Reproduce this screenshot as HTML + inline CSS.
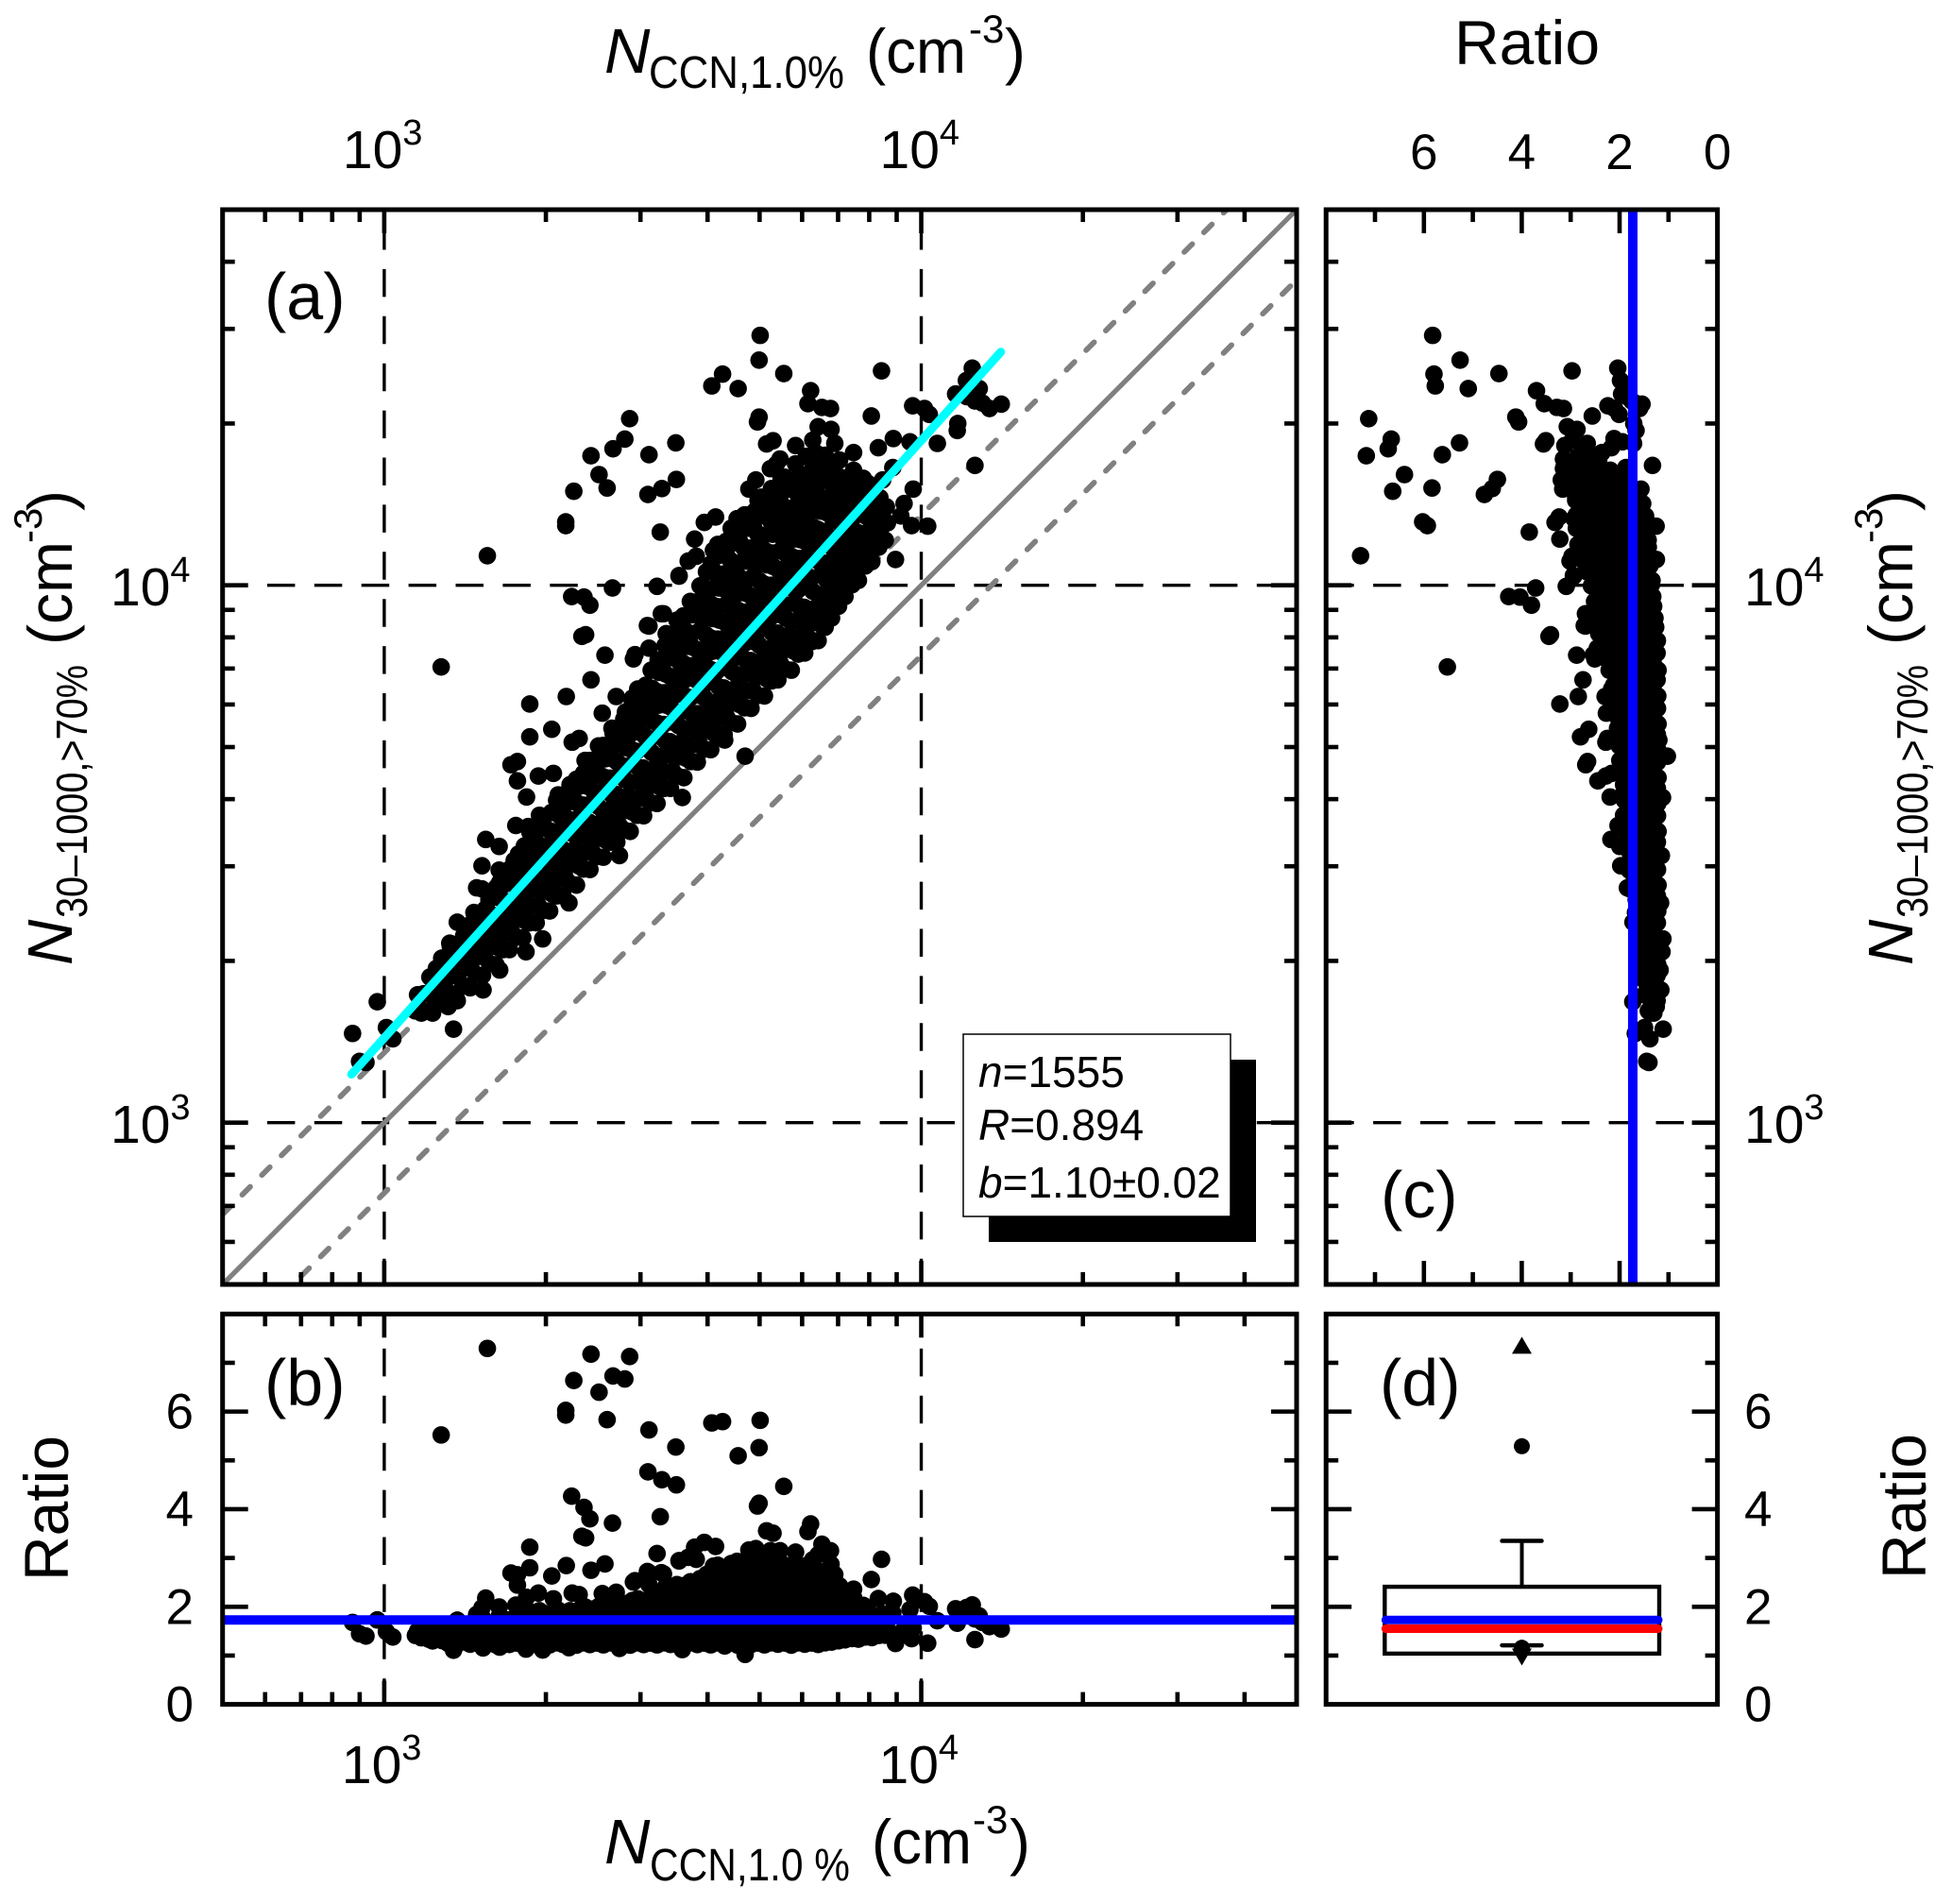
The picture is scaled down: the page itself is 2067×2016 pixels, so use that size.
<!DOCTYPE html>
<html lang="en">
<head>
<meta charset="utf-8">
<title>N30-1000 vs NCCN scatter</title>
<style>
html,body{margin:0;padding:0;background:#fff;}
svg{display:block;}
text{font-family:"Liberation Sans",Arial,sans-serif;fill:#000;}
.it{font-style:italic;}
</style>
</head>
<body>
<svg id="fig" xmlns="http://www.w3.org/2000/svg" width="2067" height="2016" viewBox="0 0 2067 2016">
<rect x="0" y="0" width="2067" height="2016" fill="#fff"/>
<defs>
<clipPath id="clipA"><rect x="235.7" y="222" width="1137.3" height="1138"/></clipPath>
<clipPath id="clipB"><rect x="235.7" y="1391.3" width="1137.3" height="413.3"/></clipPath>
<clipPath id="clipC"><rect x="1404.2" y="222" width="414.4" height="1138"/></clipPath>
</defs>
<g id="panelA" clip-path="url(#clipA)"></g>
<g id="panelB" clip-path="url(#clipB)"></g>
<g id="panelC" clip-path="url(#clipC)"></g>
<g id="panelD"></g>
<g id="axes"></g>

<g>
<rect x="1047" y="1122" width="283" height="193" fill="#000"/>
<rect x="1020" y="1095" width="283" height="193" fill="#fff" stroke="#000" stroke-width="1.5"/>
<text x="1036" y="1151" font-size="46"><tspan class="it">n</tspan>=1555</text>
<text x="1036" y="1207" font-size="46"><tspan class="it">R</tspan>=0.894</text>
<text x="1036" y="1268" font-size="46"><tspan class="it">b</tspan>=1.10±0.02</text>
</g>

<text x="280" y="338" font-size="70">(a)</text>
<text x="280" y="1488" font-size="70">(b)</text>
<text x="1462" y="1289" font-size="70">(c)</text>
<text x="1461" y="1488" font-size="70">(d)</text>

<g>
<text x="640" y="77" font-size="67" class="it">N</text>
<text x="687" y="93" font-size="48" textLength="207" lengthAdjust="spacingAndGlyphs">CCN,1.0%</text>
<text x="917" y="77" font-size="66" textLength="106" lengthAdjust="spacingAndGlyphs">(cm</text>
<text x="1026" y="45" font-size="42">-3</text>
<text x="1064" y="77" font-size="66">)</text>
</g>
<text x="1617" y="68" font-size="66" text-anchor="middle">Ratio</text>

<g>
<text x="640" y="1973" font-size="67" class="it">N</text>
<text x="688" y="1991" font-size="48" textLength="212" lengthAdjust="spacingAndGlyphs">CCN,1.0 %</text>
<text x="923" y="1973" font-size="66" textLength="106" lengthAdjust="spacingAndGlyphs">(cm</text>
<text x="1030" y="1941" font-size="42">-3</text>
<text x="1069" y="1973" font-size="66">)</text>
</g>

<g transform="translate(76,1022) rotate(-90)">
<text x="0" y="0" font-size="67" class="it">N</text>
<text x="50" y="16" font-size="46" textLength="268" lengthAdjust="spacingAndGlyphs">30–1000,&gt;70%</text>
<text x="339" y="0" font-size="66">(cm</text>
<text x="447" y="-32" font-size="42">-3</text>
<text x="481" y="0" font-size="66">)</text>
</g>
<g transform="translate(2025,1022) rotate(-90)">
<text x="0" y="0" font-size="67" class="it">N</text>
<text x="50" y="16" font-size="46" textLength="268" lengthAdjust="spacingAndGlyphs">30–1000,&gt;70%</text>
<text x="339" y="0" font-size="66">(cm</text>
<text x="447" y="-32" font-size="42">-3</text>
<text x="481" y="0" font-size="66">)</text>
</g>
<text transform="translate(72,1597) rotate(-90)" font-size="66" text-anchor="middle">Ratio</text>
<text transform="translate(2039,1595) rotate(-90)" font-size="66" text-anchor="middle">Ratio</text>
</svg>

<script>
// log10 of N_CCN,1.0% for each sample (isolated points first, then the dense core)
const logNccn = [
3.192,3.106,3.385,3.457,3.353,3.426,3.448,3.400,3.338,3.338,
3.415,3.493,3.543,3.491,3.517,3.544,3.514,3.349,3.372,3.383,
3.368,3.375,3.425,3.271,3.271,3.236,3.248,3.312,3.339,3.385,
3.411,3.508,3.549,3.350,3.363,3.406,3.432,3.493,3.520,3.464,
2.941,2.954,2.966,2.987,3.004,3.016,3.129,3.700,3.698,3.744,
3.926,3.630,3.610,3.659,3.794,3.789,3.815,3.831,3.907,3.695,
3.698,3.808,3.832,3.839,3.798,3.766,3.712,3.724,3.874,3.920,
3.948,3.979,4.030,4.068,4.067,3.984,4.006,4.015,4.095,4.084,
4.064,4.108,4.100,4.127,4.149,4.100,3.985,4.012,3.982,3.952,
3.928,3.947,3.968,3.962,3.578,3.596,3.617,3.657,3.637,3.613,
3.581,3.566,3.549,3.516,3.525,3.490,3.692,3.679,3.702,3.730,
3.719,3.766,3.754,3.821,3.856,3.892,3.672,3.467,3.493,3.560,
3.446,3.426,3.467,4.085,4.114,3.462,3.435,3.418,3.391,3.248,
3.287,3.315,3.265,3.324,3.346,3.374,3.327,3.289,3.245,3.268,
3.189,3.214,3.277,3.242,3.182,3.214,3.172,3.182,3.215,3.195,
3.167,3.136,3.151,3.122,3.116,3.107,3.090,3.071,3.184,3.215,
3.264,3.295,3.344,3.438,3.555,3.634,3.069,3.090,3.119,3.136,
3.160,
3.739,3.763,3.792,3.809,3.833,3.833,3.868,3.897,3.892,3.862,
3.798,3.786,3.804,3.821,3.692,3.716,3.739,3.774,3.737,
3.058,3.062,
3.083,3.087,3.085,
3.108,3.112,3.110,3.107,
3.133,3.137,3.135,3.138,
3.158,3.162,3.160,3.157,3.163,
3.183,3.187,3.185,3.182,3.188,
3.208,3.212,3.210,3.207,3.213,3.209,
3.233,3.237,3.235,3.232,3.238,3.234,
3.258,3.262,3.260,3.257,3.263,3.259,3.261,
3.283,3.287,3.285,3.282,3.288,3.284,3.286,
3.308,3.312,3.310,3.307,3.313,3.309,3.311,
3.333,3.337,3.335,3.332,3.338,3.334,3.336,
3.358,3.362,3.360,3.357,3.363,3.359,3.361,3.358,
3.383,3.387,3.385,3.382,3.388,3.384,3.386,3.383,
3.408,3.412,3.410,3.407,3.413,3.409,3.411,3.408,
3.433,3.437,3.435,3.432,3.438,3.434,3.436,3.433,
3.458,3.462,3.460,3.457,3.463,3.459,3.461,3.458,3.462,
3.483,3.487,3.485,3.482,3.488,3.484,3.486,3.483,3.487,
3.508,3.512,3.510,3.507,3.513,3.509,3.511,3.508,3.512,3.510,
3.533,3.537,3.535,3.532,3.538,3.534,3.536,3.533,3.537,3.535,3.532,
3.558,3.562,3.560,3.557,3.563,3.559,3.561,3.558,3.562,3.560,3.557,
3.583,3.587,3.585,3.582,3.588,3.584,3.586,3.583,3.587,3.585,3.582,3.588,
3.608,3.612,3.610,3.607,3.613,3.609,3.611,3.608,3.612,3.610,3.607,3.613,3.609,
3.633,3.637,3.635,3.632,3.638,3.634,3.636,3.633,3.637,3.635,3.632,3.638,3.634,
3.658,3.662,3.660,3.657,3.663,3.659,3.661,3.658,3.662,3.660,3.657,3.663,3.659,
3.683,3.687,3.685,3.682,3.688,3.684,3.686,3.683,3.687,3.685,3.682,3.688,3.684,
3.708,3.712,3.710,3.707,3.713,3.709,3.711,3.708,3.712,3.710,3.707,3.713,3.709,
3.733,3.737,3.735,3.732,3.738,3.734,3.736,3.733,3.737,3.735,3.732,3.738,
3.758,3.762,3.760,3.757,3.763,3.759,3.761,3.758,3.762,3.760,3.757,3.763,
3.783,3.787,3.785,3.782,3.788,3.784,3.786,3.783,3.787,3.785,3.782,
3.808,3.812,3.810,3.807,3.813,3.809,3.811,3.808,3.812,3.810,3.807,
3.833,3.837,3.835,3.832,3.838,3.834,3.836,3.833,3.837,3.835,
3.858,3.862,3.860,3.857,3.863,3.859,3.861,3.858,
3.883,3.887,3.885,3.882,3.888,3.884,
3.908,3.912,3.910,3.907,
3.933,3.937,3.935,
3.071,3.074,
3.096,3.099,3.097,
3.121,3.124,3.122,3.123,
3.146,3.149,3.147,3.148,
3.171,3.174,3.172,3.173,3.170,
3.196,3.199,3.197,3.198,3.195,
3.221,3.224,3.222,3.223,3.220,3.225,
3.246,3.249,3.247,3.248,3.245,3.250,
3.271,3.274,3.272,3.273,3.270,3.275,3.271,
3.296,3.299,3.297,3.298,3.295,3.300,3.296,
3.321,3.324,3.322,3.323,3.320,3.325,3.321,
3.346,3.349,3.347,3.348,3.345,3.350,3.346,
3.371,3.374,3.372,3.373,3.370,3.375,3.371,3.374,
3.396,3.399,3.397,3.398,3.395,3.400,3.396,3.399,
3.421,3.424,3.422,3.423,3.420,3.425,3.421,3.424,
3.446,3.449,3.447,3.448,3.445,3.450,3.446,3.449,
3.471,3.474,3.472,3.473,3.470,3.475,3.471,3.474,3.472,
3.496,3.499,3.497,3.498,3.495,3.500,3.496,3.499,3.497,
3.521,3.524,3.522,3.523,3.520,3.525,3.521,3.524,3.522,3.523,
3.546,3.549,3.547,3.548,3.545,3.550,3.546,3.549,3.547,3.548,3.545,
3.571,3.574,3.572,3.573,3.570,3.575,3.571,3.574,3.572,3.573,3.570,
3.596,3.599,3.597,3.598,3.595,3.600,3.596,3.599,3.597,3.598,3.595,3.600,
3.621,3.624,3.622,3.623,3.620,3.625,3.621,3.624,3.622,3.623,3.620,3.625,3.621,
3.646,3.649,3.647,3.648,3.645,3.650,3.646,3.649,3.647,3.648,3.645,3.650,3.646,
3.671,3.674,3.672,3.673,3.670,3.675,3.671,3.674,3.672,3.673,3.670,3.675,3.671,
3.696,3.699,3.697,3.698,3.695,3.700,3.696,3.699,3.697,3.698,3.695,3.700,3.696,
3.721,3.724,3.722,3.723,3.720,3.725,3.721,3.724,3.722,3.723,3.720,3.725,3.721,
3.746,3.749,3.747,3.748,3.745,3.750,3.746,3.749,3.747,3.748,3.745,3.750,3.746,
3.771,3.774,3.772,3.773,3.770,3.775,3.771,3.774,3.772,3.773,3.770,3.775,
3.796,3.799,3.797,3.798,3.795,3.800,3.796,3.799,3.797,3.798,3.795,3.800,
3.821,3.824,3.822,3.823,3.820,3.825,3.821,3.824,3.822,3.823,3.820,
3.846,3.849,3.847,3.848,3.845,3.850,3.846,3.849,3.847,3.848,
3.871,3.874,3.872,3.873,3.870,3.875,3.871,3.874,
3.896,3.899,3.897,3.898,3.895,3.900,
3.921,3.924,3.922,3.923
];
// log10 of the ratio N30-1000,>70% / N_CCN,1.0% for the same samples, line for line
const logRatio = [
.863,.742,.856,.853,.822,.828,.824,.806,.780,.773,
.766,.750,.722,.678,.663,.653,.585,.630,.606,.580,
.537,.533,.570,.508,.447,.430,.388,.420,.454,.439,
.459,.490,.468,.358,.352,.356,.361,.431,.427,.399,
.225,.160,.146,.238,.173,.140,.045,.765,.721,.650,
.473,.763,.761,.707,.568,.549,.516,.498,.408,.609,
.615,.487,.458,.425,.472,.494,.551,.545,.373,.336,
.325,.288,.234,.233,.221,.350,.323,.303,.309,.297,
.292,.258,.243,.202,.188,.123,.194,.098,.129,.096,
.268,.272,.184,.167,.508,.521,.510,.467,.445,.452,
.473,.479,.469,.431,.385,.435,.504,.500,.462,.495,
.498,.460,.425,.395,.343,.307,.010,.404,.390,.346,
.305,.299,.287,.266,.225,.328,.287,.273,.277,.424,
.358,.335,.341,.286,.283,.258,.244,.283,.308,.283,
.338,.300,.240,.246,.296,.256,.265,.253,.232,.220,
.224,.237,.211,.212,.193,.179,.176,.168,.063,.069,
.054,.047,.065,.059,.050,.078,.135,.114,.097,.091,
.091,
.460,.425,.384,.384,.366,.331,.319,.284,.272,.290,
.419,.454,.442,.421,.448,.425,.407,.366,.498,
.150,.176,
.125,.155,.186,
.116,.143,.176,.199,
.106,.135,.166,.195,
.096,.124,.156,.184,.208,
.091,.121,.149,.181,.209,
.086,.114,.146,.174,.206,.229,
.089,.119,.147,.179,.207,.238,
.086,.114,.146,.176,.204,.236,.254,
.089,.117,.149,.177,.209,.237,.263,
.086,.114,.146,.174,.206,.234,.266,
.089,.119,.147,.177,.209,.239,.267,
.084,.116,.144,.176,.204,.236,.264,.281,
.088,.118,.149,.177,.208,.239,.267,.291,
.086,.114,.146,.174,.206,.234,.266,.294,
.089,.117,.147,.179,.207,.237,.269,.299,
.084,.116,.144,.176,.204,.236,.264,.296,.321,
.088,.119,.147,.178,.209,.237,.268,.299,.327,
.086,.114,.146,.174,.206,.234,.266,.294,.326,.351,
.089,.117,.149,.177,.207,.239,.267,.297,.329,.357,.376,
.084,.116,.144,.176,.204,.236,.264,.296,.324,.356,.386,
.088,.118,.148,.179,.207,.238,.269,.297,.328,.359,.387,.411,
.086,.114,.146,.174,.206,.234,.266,.294,.326,.354,.386,.414,.431,
.089,.119,.147,.177,.209,.237,.267,.299,.327,.357,.389,.417,.441,
.084,.116,.144,.176,.204,.236,.264,.296,.324,.356,.384,.416,.446,
.088,.117,.149,.178,.207,.239,.268,.297,.329,.358,.387,.419,.449,
.086,.114,.146,.174,.206,.234,.266,.294,.326,.354,.386,.414,.444,
.091,.119,.147,.179,.207,.237,.269,.297,.327,.359,.397,.431,
.084,.116,.144,.176,.204,.236,.264,.296,.324,.356,.386,.416,
.091,.119,.149,.177,.209,.237,.267,.299,.327,.361,.399,
.089,.116,.146,.176,.206,.236,.266,.296,.326,.356,.389,
.106,.134,.166,.194,.226,.254,.286,.314,.346,.371,
.121,.149,.181,.209,.241,.269,.301,.339,
.126,.156,.186,.216,.256,.301,
.136,.166,.206,.249,
.151,.179,.211,
.138,.166,
.130,.160,.190,
.120,.150,.180,.205,
.110,.140,.170,.200,
.105,.135,.165,.195,.220,
.100,.130,.160,.190,.220,
.101,.129,.162,.188,.221,.240,
.099,.132,.158,.191,.219,.250,
.101,.129,.162,.188,.221,.252,.270,
.099,.132,.158,.191,.219,.248,.272,
.101,.129,.162,.188,.221,.252,.279,
.099,.132,.158,.191,.219,.248,.281,
.101,.129,.162,.188,.221,.252,.279,.300,
.099,.132,.158,.191,.219,.248,.281,.302,
.101,.129,.162,.188,.221,.252,.279,.310,
.099,.132,.158,.191,.219,.248,.281,.315,
.101,.129,.162,.188,.221,.252,.279,.311,.335,
.099,.132,.158,.191,.219,.248,.281,.309,.345,
.101,.129,.162,.188,.221,.252,.279,.311,.338,.365,
.099,.132,.158,.191,.219,.248,.281,.309,.342,.368,.390,
.101,.129,.162,.188,.221,.252,.279,.311,.338,.372,.400,
.099,.132,.158,.191,.219,.248,.281,.309,.342,.368,.401,.425,
.101,.129,.162,.188,.221,.252,.279,.311,.338,.372,.399,.431,.455,
.099,.132,.158,.191,.219,.248,.281,.309,.342,.368,.401,.429,.460,
.101,.129,.162,.188,.221,.252,.279,.311,.338,.372,.399,.431,.460,
.099,.132,.158,.191,.219,.248,.281,.309,.342,.368,.401,.429,.462,
.101,.129,.162,.188,.221,.252,.279,.311,.338,.372,.399,.431,.459,
.099,.132,.158,.191,.219,.248,.281,.309,.342,.368,.401,.429,.455,
.101,.129,.162,.188,.221,.252,.279,.311,.338,.372,.399,.431,
.099,.132,.158,.191,.219,.248,.281,.309,.342,.368,.401,.429,
.101,.129,.162,.188,.221,.252,.279,.311,.338,.372,.399,
.115,.145,.175,.205,.235,.265,.295,.325,.355,.385,
.130,.160,.190,.220,.250,.280,.310,.340,
.140,.170,.200,.230,.260,.290,
.150,.180,.210,.240
];
const fitLogNccn = [2.939, 4.148];
const fitLogN30 = [3.09, 4.434];
const guideRatios = [1.35, 1, 0.74];
const meanRatio = 1.73;
const medianRatio = 1.55;
const boxQ1 = 1.04;
const boxQ3 = 2.41;
const whiskerLow = 1.21;
const whiskerHigh = 3.35;
const outlierMax = 7.36;
const outlierHigh = 5.29;
const outlierLow = 1.16;
const outlierMin = 0.97;
const logMajorTicks = [1000, 10000];
const logMajorExponents = ["3", "4"];
const logMinorTicks = [600,700,800,900,2000,3000,4000,5000,6000,7000,8000,9000,20000,30000,40000];
const ratioMajorTicks = [0,2,4,6];
const ratioMinorTicks = [1,3,5,7];

const NS = 'http://www.w3.org/2000/svg';
const logMin = Math.log10(500), logSpan = 2;
const A = {l:235.7, r:1373, t:222, b:1360};
const B = {t:1391.3, b:1804.6};
const C = {l:1404.2, r:1818.6};
const xLog = v => A.l + (v - logMin) / logSpan * (A.r - A.l);
const yLog = v => A.b - (v - logMin) / logSpan * (A.b - A.t);
const yRatio = r => B.b - r / 8 * (B.b - B.t);
const xRatio = r => C.r - r / 8 * (C.r - C.l);

function make(tag, parent, props) {
  const e = document.createElementNS(NS, tag);
  for (const k in props) e.setAttribute(k, props[k]);
  parent.appendChild(e);
  return e;
}
const gA = document.getElementById('panelA');
const gB = document.getElementById('panelB');
const gC = document.getElementById('panelC');
const gD = document.getElementById('panelD');
const gAxes = document.getElementById('axes');

function gridLine(parent, x1, y1, x2, y2) {
  const el = make('line', parent, {x1, y1, x2, y2, stroke:'#000', 'stroke-width':3.4, 'stroke-dasharray':'29.5 20.4'});
  
  
}
logMajorTicks.forEach(v => {
  const lv = Math.log10(v);
  gridLine(gA, xLog(lv), 235, xLog(lv), A.b);
  gridLine(gA, 233, yLog(lv), A.r, yLog(lv));
  gridLine(gB, xLog(lv), 1378, xLog(lv), B.b);
  gridLine(gC, C.l, yLog(lv), C.r, yLog(lv));
});

guideRatios.forEach(r => {
  const lr = Math.log10(r);
  const el = make('line', gA, {
    x1: xLog(logMin), y1: yLog(logMin + lr),
    x2: xLog(logMin + logSpan), y2: yLog(logMin + logSpan + lr),
    stroke:'#808080', 'stroke-width':5.2
  });
  if (r !== 1) {
    el.setAttribute('stroke-width', '5.8');
    el.setAttribute('stroke-dasharray', '12 17.4');
    el.setAttribute('stroke-linecap', 'round');
  }
  
  
});

const n = Math.min(logNccn.length, logRatio.length);
for (let i = 0; i < n; i++) {
  const u = logNccn[i], d = logRatio[i], ratio = Math.pow(10, d);
  const a = make('circle', gA, {cx:xLog(u), cy:yLog(u + d), r:9.3, fill:'#000'});
  
  
  const b = make('circle', gB, {cx:xLog(u), cy:yRatio(ratio), r:9.3, fill:'#000'});
  
  
  const c = make('circle', gC, {cx:xRatio(ratio), cy:yLog(u + d), r:9.3, fill:'#000'});
  
  
}

const fit = make('line', gA, {
  x1:xLog(fitLogNccn[0]), y1:yLog(fitLogN30[0]),
  x2:xLog(fitLogNccn[1]), y2:yLog(fitLogN30[1]),
  stroke:'#00ffff', 'stroke-width':9, 'stroke-linecap':'round'
});



const meanB = make('line', gB, {x1:A.l, y1:yRatio(meanRatio), x2:A.r, y2:yRatio(meanRatio), stroke:'#0000ff', 'stroke-width':10});


const meanC = make('line', gC, {x1:xRatio(meanRatio), y1:A.t, x2:xRatio(meanRatio), y2:A.b, stroke:'#0000ff', 'stroke-width':10});



// Panel d box plot
const boxL = 1466.3, boxR = 1757, boxC = 1611.5;
const stemHi = make('line', gD, {x1:boxC, y1:yRatio(boxQ3), x2:boxC, y2:yRatio(whiskerHigh), stroke:'#000', 'stroke-width':4});


const capHi = make('line', gD, {x1:boxC-21, y1:yRatio(whiskerHigh), x2:boxC+21, y2:yRatio(whiskerHigh), stroke:'#000', 'stroke-width':4.5, 'stroke-linecap':'round'});


const stemLo = make('line', gD, {x1:boxC, y1:yRatio(boxQ1), x2:boxC, y2:yRatio(whiskerLow), stroke:'#000', 'stroke-width':4});


const capLo = make('line', gD, {x1:boxC-21, y1:yRatio(whiskerLow), x2:boxC+21, y2:yRatio(whiskerLow), stroke:'#000', 'stroke-width':4.5, 'stroke-linecap':'round'});


const box = make('rect', gD, {x:boxL, y:yRatio(boxQ3), width:boxR-boxL, height:yRatio(boxQ1)-yRatio(boxQ3), fill:'none', stroke:'#000', 'stroke-width':4.4});


const medianLine = make('line', gD, {x1:boxL+1, y1:yRatio(medianRatio), x2:boxR-1, y2:yRatio(medianRatio), stroke:'#ff0000', 'stroke-width':9, 'stroke-linecap':'round'});


const meanD = make('line', gD, {x1:boxL+1, y1:yRatio(meanRatio), x2:boxR-1, y2:yRatio(meanRatio), stroke:'#0000ff', 'stroke-width':9, 'stroke-linecap':'round'});


const hiDot = make('circle', gD, {cx:boxC, cy:yRatio(outlierHigh), r:8.5, fill:'#000'});


const loDot = make('circle', gD, {cx:boxC, cy:yRatio(outlierLow), r:8.5, fill:'#000'});


const yMax = yRatio(outlierMax), yMin = yRatio(outlierMin);
const triUp = make('polygon', gD, {points:`${boxC},${yMax-9} ${boxC+10.5},${yMax+9} ${boxC-10.5},${yMax+9}`, fill:'#000'});


const triDown = make('polygon', gD, {points:`${boxC},${yMin+9} ${boxC+10.5},${yMin-9} ${boxC-10.5},${yMin-9}`, fill:'#000'});



// Frames and ticks
function frame(x, y, w, h) {
  const el = make('rect', gAxes, {x, y, width:w, height:h, fill:'none', stroke:'#000', 'stroke-width':5});
  
  
}
frame(A.l, A.t, A.r-A.l, A.b-A.t);
frame(A.l, B.t, A.r-A.l, B.b-B.t);
frame(C.l, A.t, C.r-C.l, A.b-A.t);
frame(C.l, B.t, C.r-C.l, B.b-B.t);

function xTick(x, top, bottom, len) {
  const a = make('line', gAxes, {x1:x, y1:top, x2:x, y2:top+len, stroke:'#000', 'stroke-width':4.6});
  
  
  const b = make('line', gAxes, {x1:x, y1:bottom, x2:x, y2:bottom-len, stroke:'#000', 'stroke-width':4.6});
  
  
}
function yTick(y, left, right, len) {
  const a = make('line', gAxes, {x1:left, y1:y, x2:left+len, y2:y, stroke:'#000', 'stroke-width':4.6});
  
  
  const b = make('line', gAxes, {x1:right, y1:y, x2:right-len, y2:y, stroke:'#000', 'stroke-width':4.6});
  
  
}
logMajorTicks.forEach(v => {
  const lv = Math.log10(v);
  xTick(xLog(lv), A.t, A.b, 25);
  xTick(xLog(lv), B.t, B.b, 25);
  yTick(yLog(lv), A.l, A.r, 27);
  yTick(yLog(lv), C.l, C.r, 27);
});
logMinorTicks.forEach(v => {
  const lv = Math.log10(v);
  xTick(xLog(lv), A.t, A.b, 13);
  xTick(xLog(lv), B.t, B.b, 13);
  yTick(yLog(lv), A.l, A.r, 13);
  yTick(yLog(lv), C.l, C.r, 13);
});
ratioMajorTicks.forEach(r => {
  if (r > 0) {
    xTick(xRatio(r), A.t, A.b, 25);
    yTick(yRatio(r), A.l, A.r, 27);
    yTick(yRatio(r), C.l, C.r, 27);
  }
});
ratioMinorTicks.forEach(r => {
  xTick(xRatio(r), A.t, A.b, 13);
  yTick(yRatio(r), A.l, A.r, 13);
  yTick(yRatio(r), C.l, C.r, 13);
});

// Tick labels
function powerLabel(x, y, exponent) {
  const t = make('text', gAxes, {x, y, 'font-size':57});
  
  
  const base = make('tspan', t, {});
  base.textContent = '10';
  const sup = make('tspan', t, {'font-size':38, dy:-25});
  sup.textContent = exponent;
}
logMajorTicks.forEach((v, i) => {
  const lv = Math.log10(v);
  powerLabel(xLog(lv) - 44, 178, logMajorExponents[i]);
  powerLabel(xLog(lv) - 45, 1888, logMajorExponents[i]);
  powerLabel(117, yLog(lv) + 21.5, logMajorExponents[i]);
  powerLabel(1847, yLog(lv) + 21.5, logMajorExponents[i]);
});
ratioMajorTicks.forEach(r => {
  const top = make('text', gAxes, {x:xRatio(r), y:179, 'font-size':53, 'text-anchor':'middle'});
  top.textContent = r;
  
  
  const left = make('text', gAxes, {x:205, y:yRatio(r) + 18, 'font-size':53, 'text-anchor':'end'});
  left.textContent = r;
  
  
  const right = make('text', gAxes, {x:1847, y:yRatio(r) + 18, 'font-size':53});
  right.textContent = r;
  
  
});
</script>
</body>
</html>
